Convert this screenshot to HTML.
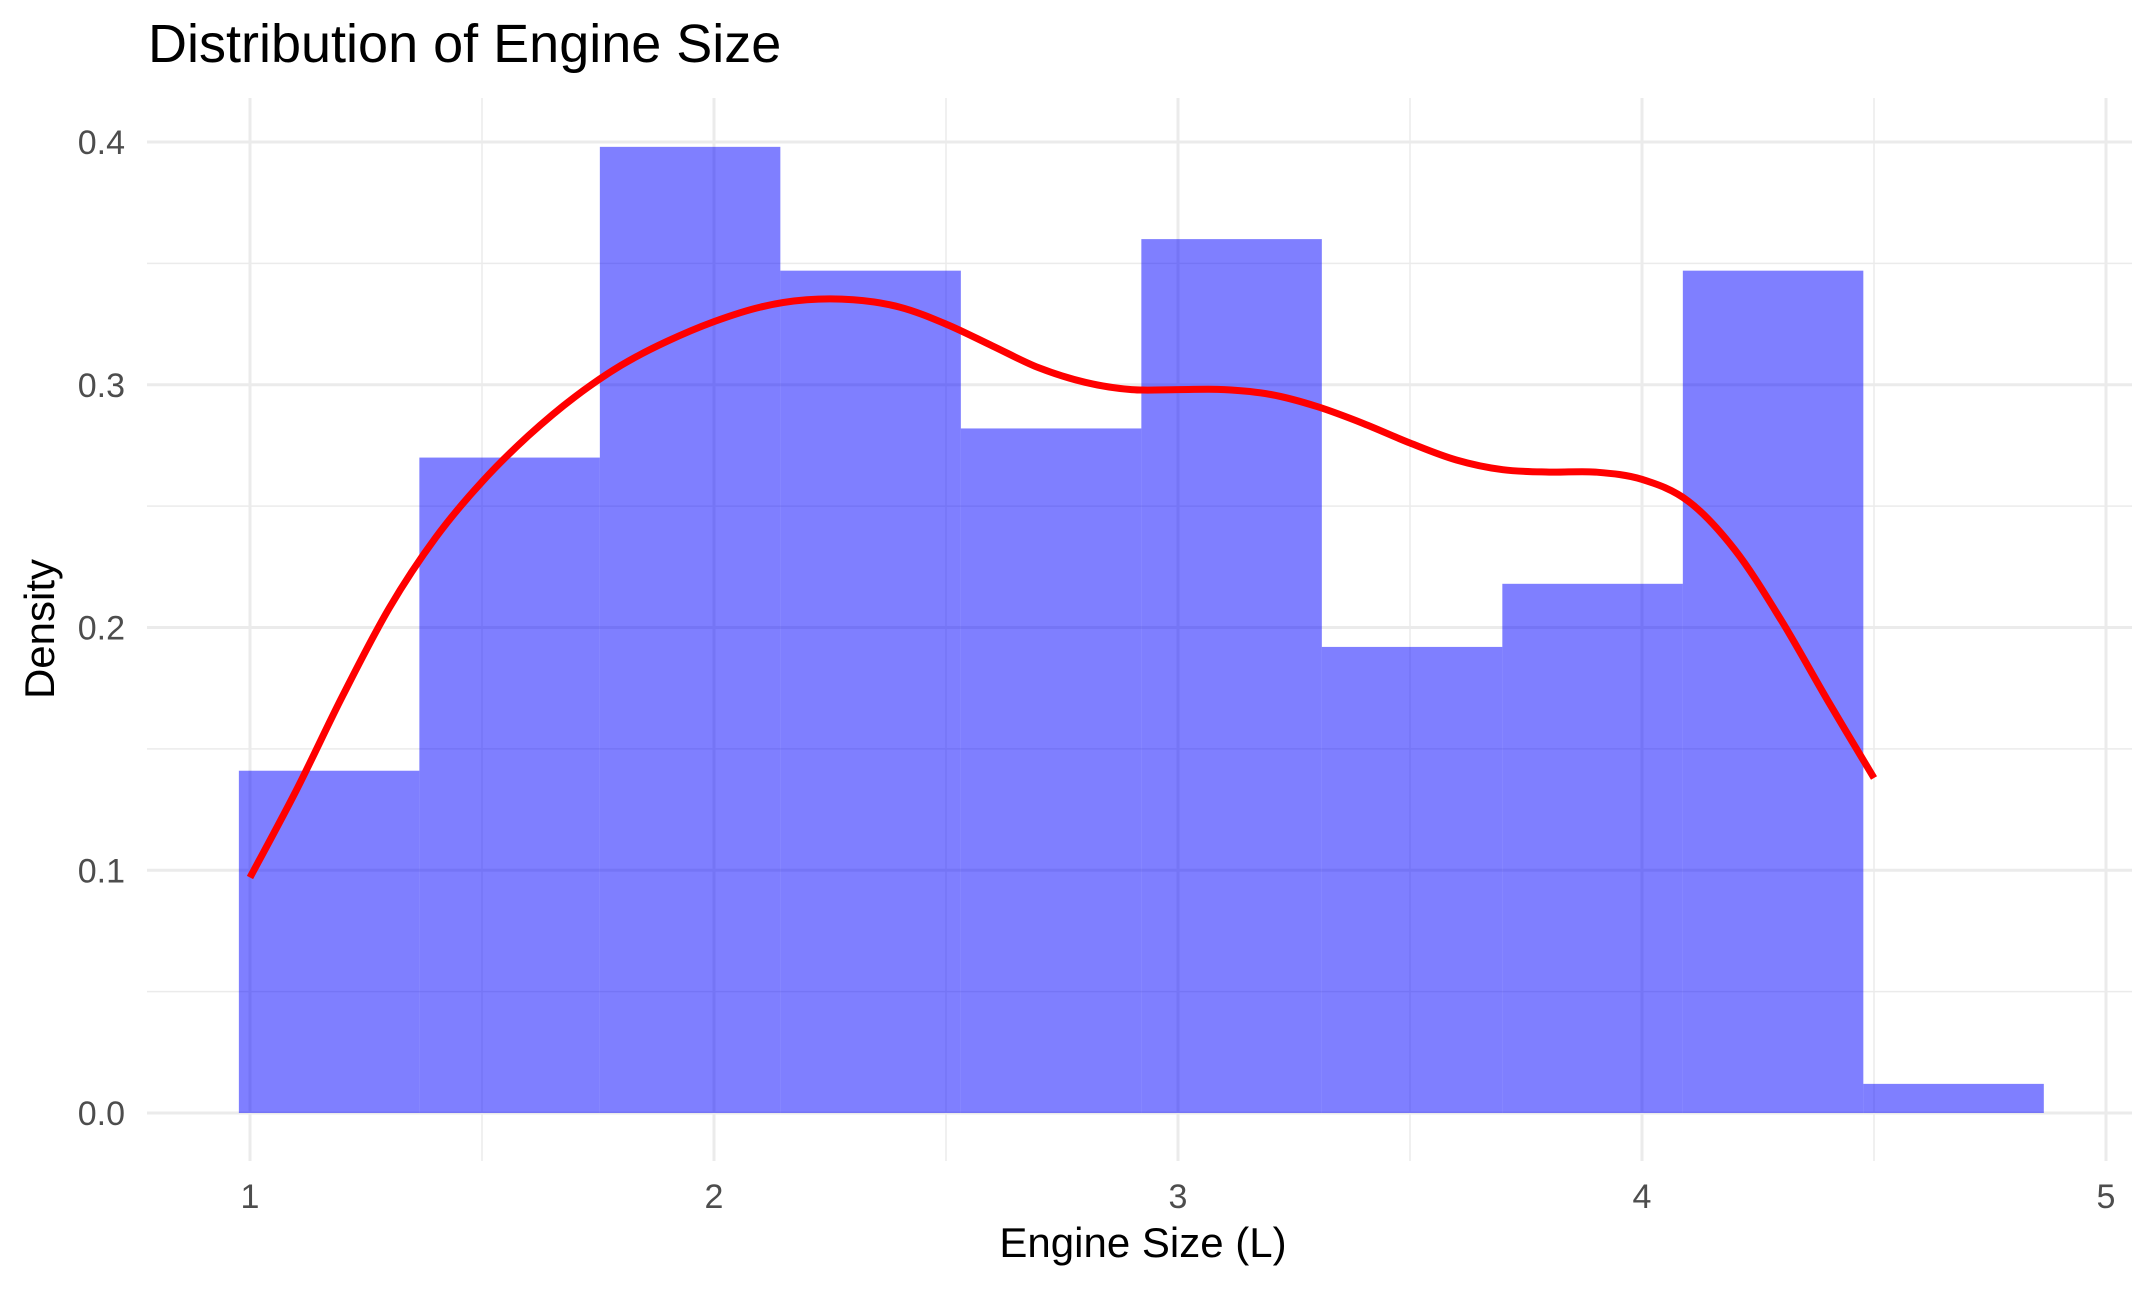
<!DOCTYPE html>
<html><head><meta charset="utf-8"><style>
html,body{margin:0;padding:0;background:#fff;}
svg{display:block;font-family:"Liberation Sans",sans-serif;}
</style></head><body>
<svg id="chart" width="2155" height="1290" viewBox="0 0 2155 1290" xmlns="http://www.w3.org/2000/svg">
<rect width="2155" height="1290" fill="#fff"/>
<g id="grid"></g>
<g id="bars"></g>
<g id="curve"></g>
<g id="axes"></g>
<text x="148" y="62" font-size="54" fill="#000">Distribution of Engine Size</text>
<text x="1143" y="1257" font-size="42" text-anchor="middle" fill="#000">Engine Size (L)</text>
<text transform="translate(54,629) rotate(-90)" font-size="42" text-anchor="middle" fill="#000">Density</text>
</svg>
<script>
const binStart = 0.976;
const binWidth = 0.389;
const binDensity = [0.141,0.27,0.398,0.347,0.282,0.36,0.192,0.218,0.347,0.012];
const curveX = [1.0,1.1,1.2,1.3,1.4,1.5,1.6,1.7,1.8,1.9,2.0,2.1,2.2,2.3,2.4,2.5,2.6,2.7,2.8,2.9,3.0,3.1,3.2,3.3,3.4,3.5,3.6,3.7,3.8,3.9,4.0,4.1,4.2,4.3,4.4,4.5];
const curveY = [0.097,0.133,0.172,0.208,0.237,0.26,0.279,0.295,0.308,0.318,0.326,0.332,0.335,0.335,0.332,0.325,0.316,0.307,0.301,0.298,0.298,0.298,0.296,0.291,0.284,0.276,0.269,0.265,0.264,0.264,0.261,0.252,0.232,0.203,0.17,0.138];
const xTicks = [1,2,3,4,5];
const xTickLabels = ["1","2","3","4","5"];
const yTicks = [0,0.1,0.2,0.3,0.4];
const yTickLabels = ["0.0","0.1","0.2","0.3","0.4"];
const xMinor = [1.5,2.5,3.5,4.5];
const yMinor = [0.05,0.15,0.25,0.35];

const NS="http://www.w3.org/2000/svg";
const X0=250, X1=2106, Y0=1113, Y1=142;
function sx(v){return X0+(v-1)*(X1-X0)/4;}
function sy(v){return Y0-v*(Y0-Y1)/0.4;}
const PL=147, PR=2132, PT=98, PB=1161;
function mk(tag,attrs,parent){const e=document.createElementNS(NS,tag);for(const k in attrs)e.setAttribute(k,attrs[k]);parent.appendChild(e);return e;}
const grid=document.getElementById('grid');
yMinor.forEach(v=>{const l=mk('line',{x1:PL,x2:PR,y1:sy(v),y2:sy(v),stroke:'#ebebeb','stroke-width':1.5},grid);

});
xMinor.forEach(v=>{const l=mk('line',{x1:sx(v),x2:sx(v),y1:PT,y2:PB,stroke:'#ebebeb','stroke-width':1.5},grid);

});
yTicks.forEach(v=>{const l=mk('line',{x1:PL,x2:PR,y1:sy(v),y2:sy(v),stroke:'#ebebeb','stroke-width':3},grid);

});
xTicks.forEach(v=>{const l=mk('line',{x1:sx(v),x2:sx(v),y1:PT,y2:PB,stroke:'#ebebeb','stroke-width':3},grid);

});
const bars=document.getElementById('bars');
binDensity.forEach((d,i)=>{const a=binStart+i*binWidth,b=a+binWidth;
const r=mk('rect',{x:sx(a),y:sy(d),width:sx(b)-sx(a),height:sy(0)-sy(d),fill:'rgba(0,0,255,0.5)'},bars);

});
const cg=document.getElementById('curve');
const pts=curveX.map((x,i)=>[sx(x),sy(curveY[i])]);
let d='M'+pts[0][0].toFixed(1)+','+pts[0][1].toFixed(1);
for(let i=0;i<pts.length-1;i++){
  const p0=pts[Math.max(0,i-1)],p1=pts[i],p2=pts[i+1],p3=pts[Math.min(pts.length-1,i+2)];
  const c1=[p1[0]+(p2[0]-p0[0])/6,p1[1]+(p2[1]-p0[1])/6];
  const c2=[p2[0]-(p3[0]-p1[0])/6,p2[1]-(p3[1]-p1[1])/6];
  d+='C'+c1[0].toFixed(1)+','+c1[1].toFixed(1)+' '+c2[0].toFixed(1)+','+c2[1].toFixed(1)+' '+p2[0].toFixed(1)+','+p2[1].toFixed(1);
}
const p=mk('path',{d:d,fill:'none',stroke:'#ff0000','stroke-width':7,'stroke-linejoin':'round'},cg);


const axes=document.getElementById('axes');
xTicks.forEach((v,i)=>{const t=mk('text',{x:sx(v),y:1208,'font-size':34,'text-anchor':'middle',fill:'#4d4d4d'},axes);t.textContent=xTickLabels[i];

});
yTicks.forEach((v,i)=>{const t=mk('text',{x:125,y:sy(v)+12,'font-size':34,'text-anchor':'end',fill:'#4d4d4d'},axes);t.textContent=yTickLabels[i];

});
</script>
</body></html>
